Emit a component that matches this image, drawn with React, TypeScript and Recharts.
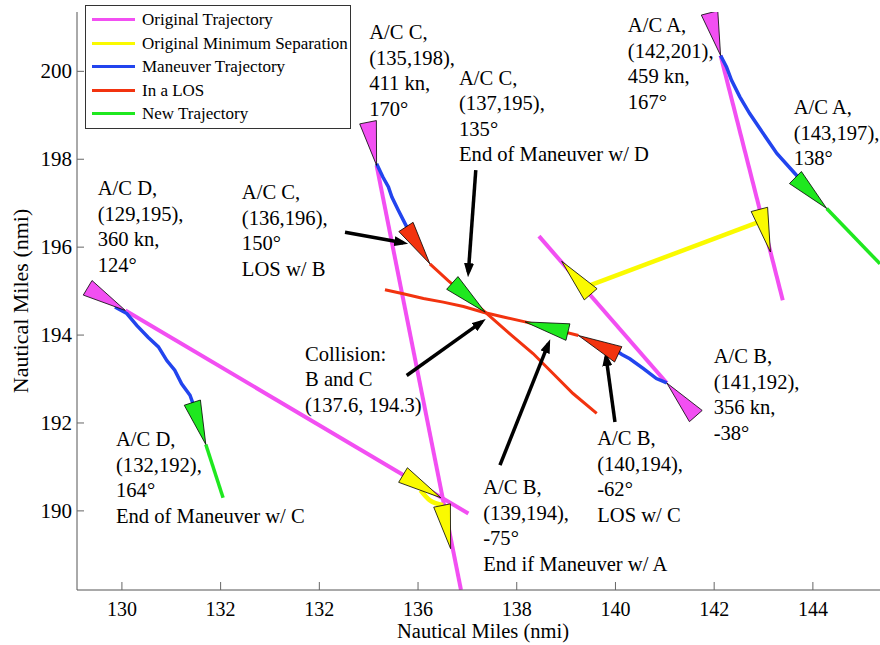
import { ComposedChart, Line, Scatter, XAxis, YAxis, Legend } from "recharts"

// axes
const xDomain: [number, number] = [129.09, 145.36]
const yDomain: [number, number] = [188.2, 201.35]
const xTicks = [130, 132, 134, 136, 138, 140, 142, 144]
const xTickLabels = ["130", "132", "132", "136", "138", "140", "142", "144"]
const yTicks = [190, 192, 194, 196, 198, 200]

// original trajectories
const origA = [{ x: 142.13, y: 200.36 }, { x: 143.39, y: 194.79 }]
const origB = [{ x: 141.04, y: 192.91 }, { x: 138.45, y: 196.25 }]
const origC = [{ x: 135.16, y: 197.86 }, { x: 136.87, y: 188.2 }]
const origD = [{ x: 130.07, y: 194.56 }, { x: 137.02, y: 189.94 }]

// original minimum separation
const minSepAB = [{ x: 139.48, y: 195.13 }, { x: 142.99, y: 196.61 }]
const minSepCD = [{ x: 136.05, y: 190.47 }, { x: 136.24, y: 190.24 }, { x: 136.51, y: 190.13 }]

// maneuver trajectories
const manA = [
  { x: 142.13, y: 200.36 }, { x: 142.25, y: 200.1 }, { x: 142.35, y: 199.8 }, { x: 142.52, y: 199.42 },
  { x: 142.72, y: 199.04 }, { x: 142.99, y: 198.59 }, { x: 143.27, y: 198.13 }, { x: 143.64, y: 197.67 },
  { x: 143.8, y: 197.45 },
]
const manB = [
  { x: 141.04, y: 192.91 }, { x: 140.83, y: 193.01 }, { x: 140.56, y: 193.24 }, { x: 140.29, y: 193.46 },
  { x: 140.13, y: 193.56 }, { x: 140.05, y: 193.62 },
]
const manC = [
  { x: 135.16, y: 197.9 }, { x: 135.29, y: 197.59 }, { x: 135.4, y: 197.37 }, { x: 135.47, y: 197.14 },
  { x: 135.6, y: 196.84 }, { x: 135.74, y: 196.53 }, { x: 135.8, y: 196.4 },
]
const manD = [
  { x: 129.86, y: 194.64 }, { x: 130.1, y: 194.49 }, { x: 130.3, y: 194.22 }, { x: 130.53, y: 193.95 },
  { x: 130.74, y: 193.73 }, { x: 130.91, y: 193.42 }, { x: 131.07, y: 193.2 }, { x: 131.21, y: 192.89 },
  { x: 131.38, y: 192.63 }, { x: 131.44, y: 192.44 }, { x: 131.5, y: 192.3 },
]

// in a LOS
const losB = [
  { x: 139.25, y: 193.99 }, { x: 138.17, y: 194.3 }, { x: 137.73, y: 194.41 }, { x: 137.32, y: 194.52 },
  { x: 136.92, y: 194.65 }, { x: 136.51, y: 194.75 }, { x: 136.11, y: 194.83 }, { x: 135.7, y: 194.94 },
  { x: 135.33, y: 195.03 },
]
const losC = [
  { x: 136.24, y: 195.62 }, { x: 136.61, y: 195.24 }, { x: 137.36, y: 194.52 }, { x: 137.92, y: 193.97 },
  { x: 138.33, y: 193.58 }, { x: 138.73, y: 193.13 }, { x: 139.14, y: 192.67 }, { x: 139.62, y: 192.22 },
]

// new trajectories
const newA = [{ x: 144.28, y: 196.88 }, { x: 145.36, y: 195.62 }]
const newD = [{ x: 131.7, y: 191.51 }, { x: 132.05, y: 190.3 }]

// aircraft markers: position + heading (deg)
const startMarks = [
  { x: 142.13, y: 200.36, h: 167 },
  { x: 141.04, y: 192.91, h: -38 },
  { x: 135.16, y: 197.86, h: 170 },
  { x: 130.07, y: 194.56, h: 124 },
]
const minSepMarks = [
  { x: 143.14, y: 195.89, h: 167 },
  { x: 138.91, y: 195.68, h: -38 },
  { x: 136.66, y: 189.14, h: 170 },
  { x: 136.46, y: 190.3, h: 124 },
]
const losMarks = [
  { x: 136.24, y: 195.62, h: 150 },
  { x: 139.25, y: 193.99, h: -62 },
]
const newMarks = [
  { x: 144.28, y: 196.88, h: 138 },
  { x: 138.17, y: 194.3, h: -75 },
  { x: 137.36, y: 194.52, h: 135 },
  { x: 131.7, y: 191.51, h: 164 },
]

// annotation arrows
const arrows = [
  [{ x: 134.52, y: 196.34 }, { x: 135.7, y: 196.1 }],
  [{ x: 137.17, y: 197.75 }, { x: 137.02, y: 195.43 }],
  [{ x: 135.77, y: 193.08 }, { x: 137.29, y: 194.3 }],
  [{ x: 137.66, y: 191.04 }, { x: 138.64, y: 193.8 }],
  [{ x: 139.99, y: 192.02 }, { x: 139.81, y: 193.5 }],
]

const notes = [
  { x: 129.51, y: 197.18, lines: ["A/C D,", "(129,195),", "360 kn,", "124°"] },
  { x: 129.88, y: 191.47, lines: ["A/C D,", "(132,192),", "164°", "End of Maneuver w/ C"] },
  { x: 135.01, y: 200.73, lines: ["A/C C,", "(135,198),", "411 kn,", "170°"] },
  { x: 136.83, y: 199.7, lines: ["A/C C,", "(137,195),", "135°", "End of Maneuver w/ D"] },
  { x: 140.25, y: 200.89, lines: ["A/C A,", "(142,201),", "459 kn,", "167°"] },
  { x: 143.61, y: 199.02, lines: ["A/C A,", "(143,197),", "138°"] },
  { x: 132.43, y: 197.09, lines: ["A/C C,", "(136,196),", "150°", "LOS w/ B"] },
  { x: 133.71, y: 193.42, lines: ["Collision:", "B and C", "(137.6, 194.3)"] },
  { x: 137.32, y: 190.38, lines: ["A/C B,", "(139,194),", "-75°", "End if Maneuver w/ A"] },
  { x: 139.63, y: 191.49, lines: ["A/C B,", "(140,194),", "-62°", "LOS w/ C"] },
  { x: 141.99, y: 193.36, lines: ["A/C B,", "(141,192),", "356 kn,", "-38°"] },
]

const legendNames = ["Original Trajectory", "Original Minimum Separation", "Maneuver Trajectory", "In a LOS", "New Trajectory"]

const MAGENTA = "#f24ff2"
const YELLOW = "#fafa00"
const BLUE = "#2244ee"
const RED = "#f2330f"
const GREEN = "#1fe81f"
const legendColors = [MAGENTA, YELLOW, BLUE, RED, GREEN]

const FONT = "'Liberation Serif', 'Times New Roman', serif"
const W = 880
const H = 645
const PLOT_L = 77
const PLOT_T = 12
const PLOT_B = 590
const KX = (W - PLOT_L) / (xDomain[1] - xDomain[0])
const KY = (PLOT_B - PLOT_T) / (yDomain[1] - yDomain[0])

function Heading({ cx, cy, payload, color }: any) {
  const h = (payload.h * Math.PI) / 180
  let dx = Math.sin(h) * KX
  let dy = -Math.cos(h) * KY
  const n = Math.hypot(dx, dy)
  dx /= n
  dy /= n
  const len = 44
  const half = 8.5
  const bx = cx - dx * len
  const by = cy - dy * len
  const pts = [
    [cx, cy],
    [bx - dy * half, by + dx * half],
    [bx + dy * half, by - dx * half],
  ]
  return <polygon points={pts.map(p => p.join(",")).join(" ")} fill={color} stroke="#000" strokeWidth={0.8} />
}

function Note({ cx, cy, payload }: any) {
  return (
    <text x={cx} y={cy} fontFamily={FONT} fontSize={20.6} fill="#000">
      {payload.lines.map((t: string, i: number) => (
        <tspan key={i} x={cx} dy={i === 0 ? 0 : 25.5}>{t}</tspan>
      ))}
    </text>
  )
}

function XTick({ x, y, payload }: any) {
  const i = xTicks.indexOf(payload.value)
  return (
    <g>
      <line x1={x} x2={x} y1={y} y2={y - 8} stroke="#666" />
      <text x={x} y={y + 26} textAnchor="middle" fontFamily={FONT} fontSize={20} fill="#000">{xTickLabels[i]}</text>
    </g>
  )
}

function YTick({ x, y, payload }: any) {
  return (
    <g>
      <line x1={x} x2={x + 7} y1={y} y2={y} stroke="#666" />
      <text x={x - 5} y={y + 7} textAnchor="end" fontFamily={FONT} fontSize={21} fill="#000">{payload.value}</text>
    </g>
  )
}

const renderLegend = () => (
  <div style={{ width: 264, height: 120, border: "1px solid #333", background: "#fff", fontFamily: FONT, fontSize: 17, paddingTop: 2, color: "#000" }}>
    {legendNames.map((name, i) => (
      <div key={name} style={{ display: "flex", alignItems: "center", height: 23.5 }}>
        <div style={{ marginLeft: 6, width: 43, height: 3, background: legendColors[i] }} />
        <span style={{ marginLeft: 7, lineHeight: "23.5px" }}>{name}</span>
      </div>
    ))}
  </div>
)

export default function App() {
  return (
    <div style={{ position: "absolute", left: 0, top: 0, width: W, height: H, overflow: "hidden", background: "#fff" }}>
      <svg width={0} height={0} style={{ position: "absolute" }}>
        <defs>
          <marker id="arrowHead" viewBox="0 0 14 10" refX={9} refY={5} markerWidth={14} markerHeight={10} markerUnits="userSpaceOnUse" orient="auto">
            <path d="M0,0 L14,5 L0,10 z" fill="#000" />
          </marker>
        </defs>
      </svg>
      <ComposedChart width={W} height={H} margin={{ top: PLOT_T, right: 0, bottom: 0, left: 0 }}>
        <XAxis
          dataKey="x"
          type="number"
          domain={xDomain}
          allowDataOverflow
          ticks={xTicks}
          height={55}
          tickSize={0}
          tickMargin={0}
          tickLine={false}
          tick={<XTick />}
          axisLine={{ stroke: "#555" }}
          label={() => (
            <text x={483} y={638} textAnchor="middle" fontFamily={FONT} fontSize={20.5} fill="#000">Nautical Miles (nmi)</text>
          )}
        />
        <XAxis xAxisId="top" orientation="top" dataKey="x" type="number" domain={xDomain} allowDataOverflow height={0} tick={false} tickLine={false} axisLine={{ stroke: "#c8c8c8" }} />
        <YAxis
          dataKey="y"
          type="number"
          domain={yDomain}
          allowDataOverflow
          ticks={yTicks}
          width={PLOT_L}
          tickSize={0}
          tickMargin={0}
          tickLine={false}
          tick={<YTick />}
          axisLine={{ stroke: "#555" }}
          label={() => (
            <text x={20} y={301} transform="rotate(-90, 20, 301)" textAnchor="middle" dominantBaseline="central" fontFamily={FONT} fontSize={22} fill="#000">Nautical Miles (nmi)</text>
          )}
        />

        {[origA, origB, origC, origD].map((d, i) => (
          <Line key={"o" + i} data={d} dataKey="y" stroke={MAGENTA} strokeWidth={4} dot={false} isAnimationActive={false} />
        ))}
        {[minSepAB, minSepCD].map((d, i) => (
          <Line key={"s" + i} data={d} dataKey="y" type="monotone" stroke={YELLOW} strokeWidth={4.5} dot={false} isAnimationActive={false} />
        ))}
        {[manA, manB, manC, manD].map((d, i) => (
          <Line key={"m" + i} data={d} dataKey="y" stroke={BLUE} strokeWidth={3.5} dot={false} isAnimationActive={false} />
        ))}
        {[newA, newD].map((d, i) => (
          <Line key={"n" + i} data={d} dataKey="y" stroke={GREEN} strokeWidth={3.5} dot={false} isAnimationActive={false} />
        ))}
        {[losB, losC].map((d, i) => (
          <Line key={"l" + i} data={d} dataKey="y" stroke={RED} strokeWidth={3} dot={false} isAnimationActive={false} />
        ))}

        <Scatter data={startMarks} dataKey="y" isAnimationActive={false} shape={(p: any) => <Heading {...p} color={MAGENTA} />} />
        <Scatter data={minSepMarks} dataKey="y" isAnimationActive={false} shape={(p: any) => <Heading {...p} color={YELLOW} />} />
        <Scatter data={losMarks} dataKey="y" isAnimationActive={false} shape={(p: any) => <Heading {...p} color={RED} />} />
        <Scatter data={newMarks} dataKey="y" isAnimationActive={false} shape={(p: any) => <Heading {...p} color={GREEN} />} />

        {arrows.map((d, i) => (
          <Line key={"a" + i} data={d} dataKey="y" stroke="#000" strokeWidth={3.5} dot={false} markerEnd="url(#arrowHead)" isAnimationActive={false} />
        ))}

        <Scatter data={notes} dataKey="y" isAnimationActive={false} shape={(p: any) => <Note {...p} />} />

        <Legend layout="vertical" align="center" verticalAlign="middle" wrapperStyle={{ left: 85, top: 5, width: "auto", height: "auto" }} content={renderLegend} />
      </ComposedChart>
    </div>
  )
}
